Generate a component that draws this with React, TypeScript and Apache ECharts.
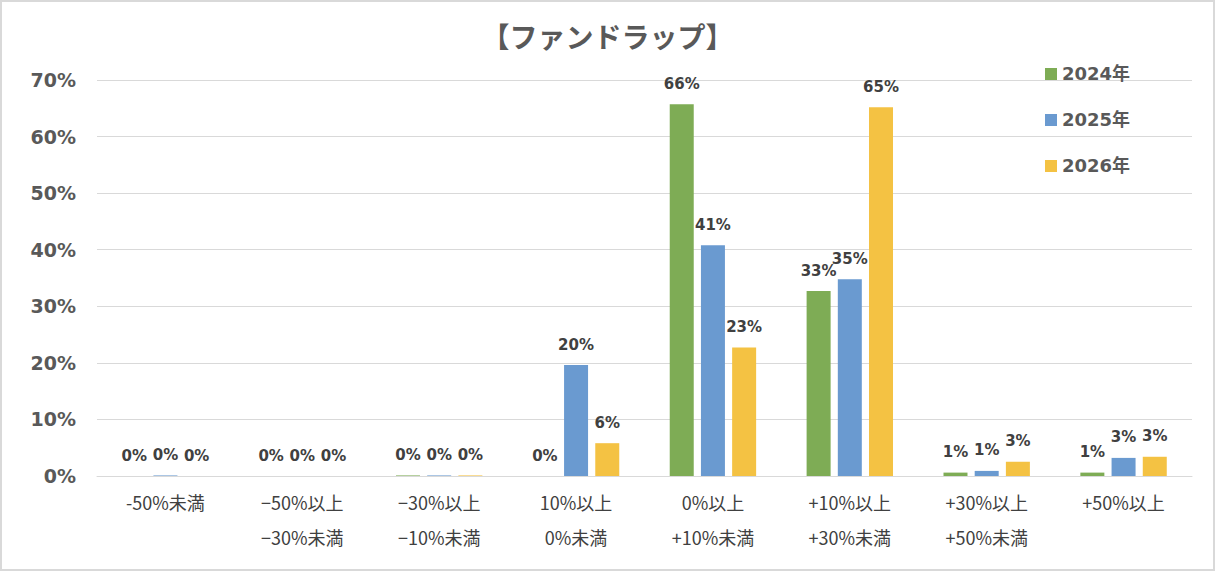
import React, { useEffect, useRef } from "react";
import * as echarts from "echarts";

// Return-range buckets (x axis), two-line labels
const categories = [
  "-50%未満",
  "−50%以上\n−30%未満",
  "−30%以上\n−10%未満",
  "10%以上\n0%未満",
  "0%以上\n+10%未満",
  "+10%以上\n+30%未満",
  "+30%以上\n+50%未満",
  "+50%以上",
];

// Share of funds per bucket, in percent
const series2024 = [0, 0, 0.1, 0, 65.7, 32.7, 0.6, 0.6];
const series2025 = [0.1, 0, 0.1, 19.6, 40.8, 34.8, 0.9, 3.2];
const series2026 = [0, 0, 0.1, 5.8, 22.7, 65.2, 2.5, 3.4];

const seriesNames = ["2024年", "2025年", "2026年"];
const colors = ["#7EAC55", "#6A9AD0", "#F4C243"];

const yTicks = { min: 0, max: 70, interval: 10 };

const FONT = "'Noto Sans CJK JP', 'Noto Sans', sans-serif";
const NUM_FONT = "'DejaVu Sans', 'Noto Sans CJK JP', sans-serif";

export default function App() {
  const ref = useRef<HTMLDivElement>(null);

  useEffect(() => {
    if (!ref.current) return;
    const chart = echarts.init(ref.current, undefined, { renderer: "svg" });
    const dataSets = [series2024, series2025, series2026];

    chart.setOption({
      animation: false,
      backgroundColor: "#ffffff",
      textStyle: { fontFamily: FONT },
      title: {
        text: "【ファンドラップ】",
        left: "center",
        top: 17,
        textStyle: {
          fontFamily: FONT,
          fontSize: 28,
          fontWeight: "bold",
          color: "#595959",
        },
      },
      legend: {
        orient: "vertical",
        left: 1040,
        top: 60,
        itemWidth: 12,
        itemHeight: 12,
        itemGap: 28,
        icon: "rect",
        textStyle: {
          fontFamily: NUM_FONT,
          fontSize: 18,
          fontWeight: "bold",
          color: "#595959",
        },
        data: seriesNames,
      },
      graphic: [
        {
          type: "rect",
          shape: { x: 1, y: 1, width: 1213, height: 569 },
          style: { fill: "none", stroke: "#d9d9d9", lineWidth: 2 },
          silent: true,
        },
      ],
      grid: { left: 97, right: 23, top: 80, bottom: 95, containLabel: false },
      xAxis: {
        type: "category",
        data: categories,
        axisLine: { show: true, lineStyle: { color: "#d9d9d9", width: 1 } },
        axisTick: { show: false },
        axisLabel: {
          interval: 0,
          margin: 8,
          fontFamily: FONT,
          fontSize: 18,
          lineHeight: 35,
          color: "#404040",
        },
      },
      yAxis: {
        type: "value",
        min: yTicks.min,
        max: yTicks.max,
        interval: yTicks.interval,
        axisLine: { show: false },
        axisTick: { show: false },
        splitLine: { lineStyle: { color: "#d9d9d9", width: 1 } },
        axisLabel: {
          margin: 21,
          fontFamily: NUM_FONT,
          fontSize: 19,
          fontWeight: "bold",
          color: "#595959",
          formatter: (v: number) => `${v}%`,
        },
      },
      series: seriesNames.map((name, i) => ({
        name,
        type: "bar",
        data: dataSets[i],
        barWidth: 24,
        barGap: "30%",
        itemStyle: { color: colors[i] },
        label: {
          show: true,
          position: "top",
          distance: 13,
          fontFamily: NUM_FONT,
          fontSize: 15,
          fontWeight: "bold",
          color: "#404040",
          formatter: (p: any) => `${Math.round(p.value)}%`,
        },
      })),
    });

    return () => chart.dispose();
  }, []);

  return (
    <div
      ref={ref}
      style={{ position: "fixed", left: 0, top: 0, width: 1215, height: 571 }}
    />
  );
}
